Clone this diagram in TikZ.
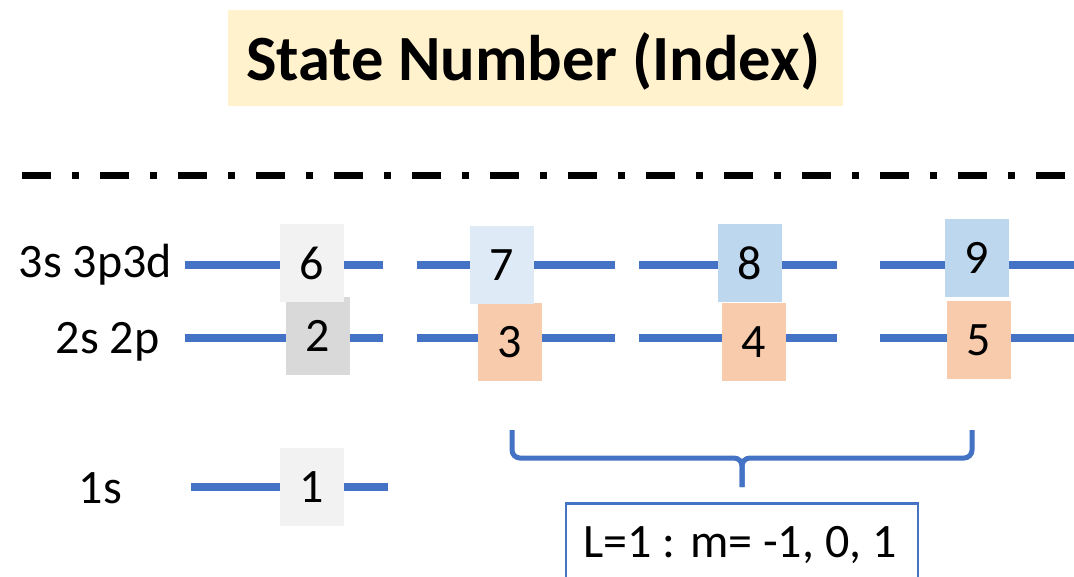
\documentclass[tikz,border=0pt]{standalone}
\usepackage{fontspec}
\setmainfont{Carlito}
\definecolor{lvl}{HTML}{4472C4}
\definecolor{gA}{HTML}{F2F2F2}
\definecolor{gB}{HTML}{D9D9D9}
\definecolor{bA}{HTML}{DEEBF7}
\definecolor{bB}{HTML}{BDD7EE}
\definecolor{oA}{HTML}{F8CBAD}
\definecolor{yA}{HTML}{FFF2CC}
\tikzset{
  statebox/.style={rectangle, minimum width=64pt, minimum height=78pt, inner sep=0pt, font=\fontsize{48}{48}\selectfont},
  lvltext/.style={inner sep=0pt, anchor=base, font=\fontsize{48}{48}\selectfont},
  level/.style={draw=lvl, line width=7.5pt},
  bracestyle/.style={draw=lvl, line width=5pt, rounded corners=8pt},
}
\begin{document}
\begin{tikzpicture}[x=1pt,y=-1pt]
\useasboundingbox (0,0) rectangle (1074,576);
% title
\node[fill=yA, minimum width=615pt, minimum height=96pt, inner sep=0pt] (title) at (535.5,58) {};
\node[inner sep=0pt, anchor=base, font=\fontsize{64.5}{64.5}\selectfont\bfseries] (titlet) at (533,80) {State Number (Index)};
% dash-dot separator
\coordinate (sepL) at (22,175.5);
\coordinate (sepR) at (1074,175.5);
\draw[line width=7pt, dash pattern=on 29pt off 21pt on 7pt off 21pt] (sepL) -- (sepR);
% level lines
\foreach \i/\a/\b in {1/185/383, 2/417/615, 3/639/837, 4/880/1074} {
  \coordinate (tL\i) at (\a,265);
  \coordinate (tR\i) at (\b,265);
  \coordinate (mL\i) at (\a,338);
  \coordinate (mR\i) at (\b,338);
  \draw[level] (tL\i) -- (tR\i);
  \draw[level] (mL\i) -- (mR\i);
}
\coordinate (sL) at (191,487);
\coordinate (sR) at (388,487);
\draw[level] (sL) -- (sR);
% labels
\node[lvltext] (l3) at (95.5,277) {3s 3p3d};
\node[lvltext] (l2) at (107.5,353) {2s 2p};
\node[lvltext] (l1) at (100.5,503) {1s};
% boxes: lower row first
\node[statebox, fill=gB] (n2) at (318,336) {2};
\node[statebox, fill=oA] (n3) at (510,342) {3};
\node[statebox, fill=oA] (n4) at (754,342) {4};
\node[statebox, fill=oA] (n5) at (979,340) {5};
\node[statebox, fill=gA] (n6) at (312,263) {6};
\node[statebox, fill=bA] (n7) at (502,265) {7};
\node[statebox, fill=bB] (n8) at (750,263) {8};
\node[statebox, fill=bB] (n9) at (977,258) {9};
\node[statebox, fill=gA] (n1) at (312,487) {1};
% brace
\coordinate (brL) at (512,430);
\coordinate (brR) at (972,430);
\coordinate (brT) at (742,487);
\draw[bracestyle] (brL) -- (512,458) -- (742,458) -- (brT);
\draw[bracestyle] (brR) -- (972,458) -- (742,458) -- (brT);
% info box
\node[draw=lvl, line width=2.5pt, minimum width=352pt, minimum height=120pt, anchor=north, inner sep=0pt] (info) at (742,502) {};
\node[lvltext] (infot) at (740,557) {L=1 : m= -1, 0, 1};
\end{tikzpicture}
\end{document}
